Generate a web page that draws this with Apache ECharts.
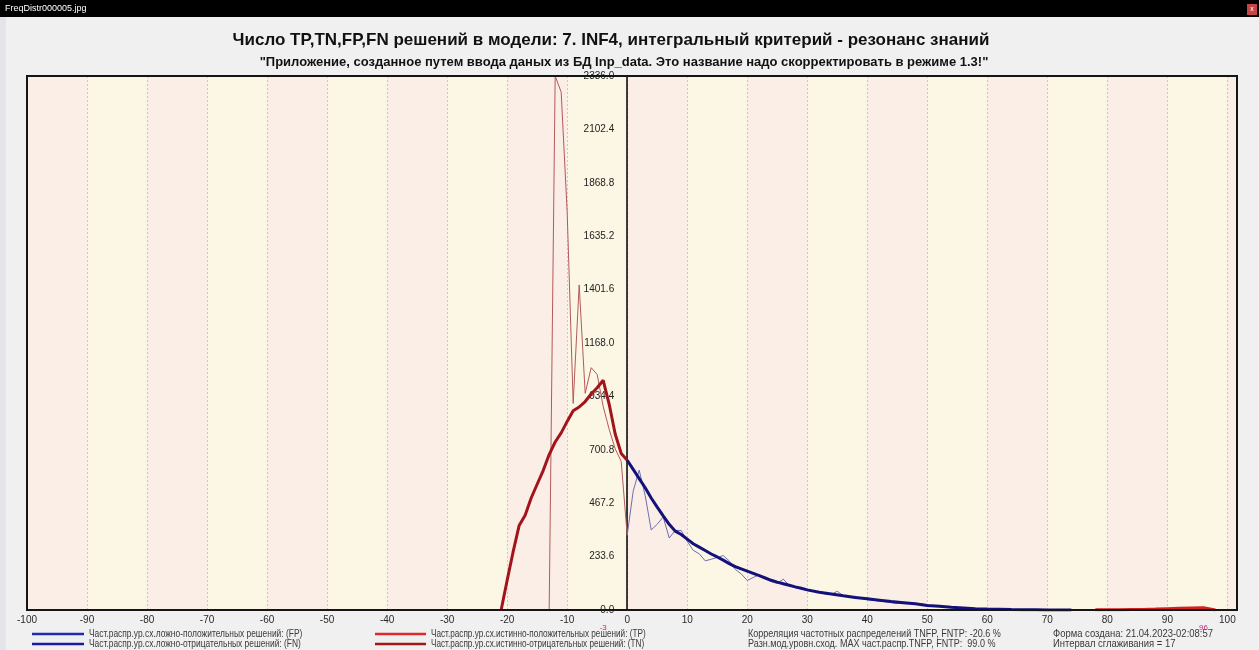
<!DOCTYPE html>
<html><head><meta charset="utf-8">
<script src="https://cdn.jsdelivr.net/npm/echarts@6/dist/echarts.min.js"></script>
<style>html,body{margin:0;padding:0;background:#f0f0f0;overflow:hidden}#c{width:1259px;height:650px}</style>
</head><body><div id="c"></div>
<script>
// ---- data ----
// thin raw red distribution (true decisions)
const trueRawX = [-13,-12,-11,-10,-9,-8,-7,-6,-5,-4,-3,-2,-1,0];
const trueRawY = [0,2336,2265,1740,904,1422,948,1060,1030,890,790,705,650,327];
// thick smoothed dark-red (TN)
const tnX = [-21,-20,-19,-18,-17,-16,-15,-14,-13,-12,-11,-10,-9,-8,-7,-6,-5,-4,-3,-2,-1,0];
const tnY = [0,130,255,370,415,490,550,610,680,735,775,825,872,888,912,945,972,1005,900,770,685,655];
// thick bright-red tail (TP)
const tpX = [78,80,82,84,86,88,90,92,94,96,98];
const tpY = [1,1,1.5,2,2.5,4,6,8,9,10,0];
// thin raw blue distribution (FP)
const fpX = [0,1,2,3,4,5,6,7,8,9,10,11,12,13,14,15,16,17,18,19,20,21,22,23,24,25,26,27,28,29,30,31,32,33,34,35,36,37,38,39,40,41,42,43,44,45,46,47,48,49,50,51,52,53,54,55,56,57,58,59,60,62,64,66];
const fpY = [327,520,612,500,350,375,407,315,348,348,300,261,246,215,222,230,238,215,178,158,129,142,155,137,124,116,135,108,97,92,85,82,78,70,68,82,62,56,60,50,45,42,40,36,32,28,35,30,27,27,22,17,15,12,10,8,7,5,4,3,2,1,0.5,0];
// thick smoothed navy (FN)
const fnX = [0,1,2,3,4,5,6,7,8,9,10,11,12,13,14,15,16,17,18,19,20,21,22,23,24,25,26,27,28,29,30,32,34,36,38,40,42,44,46,48,50,52,54,56,58,60,62,64,66,68,70,72,74];
const fnY = [655,615,575,535,490,450,412,375,345,330,310,290,275,260,245,232,218,203,190,180,170,160,150,140,130,122,115,108,101,95,88,78,70,62,55,49,43,37,32,27,20,16,12,9,6,4,3,2,1.5,1,0.5,0.3,0];

const xMin = -100, xMax = 101.6, xInterval = 10;
const yMax = 2336, yInterval = 233.6;
const modeLabels = [{x:-4, text:'-3'}, {x:96, text:'96'}];

const nFP = 'Част.распр.ур.сх.ложно-положительных решений: (FP)';
const nFN = 'Част.распр.ур.сх.ложно-отрицательных решений: (FN)';
const nTP = 'Част.распр.ур.сх.истинно-положительных решений: (TP)';
const nTN = 'Част.распр.ур.сх.истинно-отрицательных решений: (TN)';
const titleText = 'Число TP,TN,FP,FN решений в модели: 7. INF4, интегральный критерий - резонанс знаний';
const subText = '"Приложение, созданное путем ввода даных из БД Inp_data. Это название надо скорректировать в режиме 1.3!"';
const info1 = 'Корреляция частотных распределений TNFP, FNTP: -20.6 %';
const info2 = 'Разн.мод.уровн.сход. MAX част.распр.TNFP, FNTP:  99.0 %';
const info3 = 'Форма создана: 21.04.2023-02:08:57';
const info4 = 'Интервал сглаживания = 17';

const pairs = (xs, ys) => xs.map((x, i) => [x, ys[i]]);
const FONT = "'Liberation Sans', Arial, sans-serif";

const G = {left:27, right:22, top:76, bottom:40};
const plotW = 1259 - G.left - G.right;
const zeroOffset = -(plotW * (0 - xMin) / (xMax - xMin));

const C = {fp:'#6e6eac', fn:'#12127a', tn:'#a3141a', tpRaw:'#b25a5a', tp:'#d42020'};

const chart = echarts.init(document.getElementById('c'), null, {renderer:'canvas'});
chart.setOption({
  animation:false,
  backgroundColor:'#f0f0f0',
  grid:{left:G.left, right:G.right, top:G.top, bottom:G.bottom, outerBoundsMode:'none', containLabel:false, show:false},
  xAxis:{type:'value', min:xMin, max:xMax, interval:xInterval,
    axisLine:{show:false}, axisTick:{show:false},
    axisLabel:{margin:5, fontSize:10, color:'#2a2a2a', fontFamily:FONT,
      formatter:v => (Math.abs(Math.round(v) - v) < 1e-6 && Math.round(v) % 10 === 0) ? String(Math.round(v)) : ''},
    splitLine:{show:true, lineStyle:{color:'#cbc8c4', type:[2,2], width:1}},
    splitArea:{show:true, areaStyle:{color:['#fbeee6','#fcf6e4']}}
  },
  yAxis:{type:'value', min:0, max:yMax, interval:yInterval, position:'left', offset:zeroOffset,
    axisLine:{show:true, onZero:false, lineStyle:{color:'#000', width:1.5}},
    axisTick:{show:false},
    axisLabel:{margin:13, fontSize:10, color:'#222', fontFamily:FONT, formatter:v => v.toFixed(1)},
    splitLine:{show:true, lineStyle:{color:'#cbc8c4', type:[2,2], width:1}}
  },
  series:[
    {name:nTP, type:'line', data:pairs(trueRawX, trueRawY), symbol:'none', lineStyle:{color:C.tpRaw, width:1}, z:3},
    {name:nFP, type:'line', data:pairs(fpX, fpY), symbol:'none', lineStyle:{color:C.fp, width:1}, z:3},
    {name:nTN, type:'line', data:pairs(tnX, tnY), symbol:'none', lineStyle:{color:C.tn, width:3}, z:4},
    {name:nFN, type:'line', data:pairs(fnX, fnY), symbol:'none', lineStyle:{color:C.fn, width:3}, z:4},
    {name:nTP, type:'line', data:pairs(tpX, tpY), symbol:'none', lineStyle:{color:C.tp, width:3}, z:4}
  ]
});

const tl = chart.convertToPixel({gridIndex:0}, [xMin, yMax]);
const br = chart.convertToPixel({gridIndex:0}, [xMax, 0]);
const txt = (x, y, s, sx) => ({type:'text', x:x, y:y, scaleX:sx,
  style:{text:s, fill:'#3a3a3a', font:"10.5px "+FONT, textVerticalAlign:'middle'}, z:10});
const legLine = (x1, x2, y, color) => ({type:'line', shape:{x1:x1, y1:y, x2:x2, y2:y}, style:{stroke:color, lineWidth:2.5}, z:10});
const g = [
  {type:'rect', shape:{x:0, y:0, width:1259, height:17}, style:{fill:'#000'}, z:10},
  {type:'text', x:5, y:9, style:{text:'FreqDistr000005.jpg', fill:'#fff', font:"9px "+FONT, textVerticalAlign:'middle'}, z:11},
  {type:'rect', shape:{x:1247, y:4, width:10, height:11}, style:{fill:'#c84545'}, z:11},
  {type:'text', x:1252, y:9.5, style:{text:'x', fill:'#fff', font:"7px "+FONT, textAlign:'center', textVerticalAlign:'middle'}, z:12},
  {type:'rect', shape:{x:0, y:17, width:6, height:633}, style:{fill:'#e3e5e8'}, z:1},
  {type:'rect', shape:{x:tl[0], y:tl[1], width:br[0]-tl[0], height:br[1]-tl[1]}, style:{fill:null, stroke:'#151515', lineWidth:2}, z:5},
  {type:'text', x:611, y:40, style:{text:titleText, fill:'#111', font:"bold 17px "+FONT, textAlign:'center', textVerticalAlign:'middle'}, z:10},
  {type:'text', x:624, y:62, style:{text:subText, fill:'#111', font:"bold 13px "+FONT, textAlign:'center', textVerticalAlign:'middle'}, z:10},
  legLine(32, 84, 634, '#1e2cb0'), txt(89, 634, nFP, 0.8),
  legLine(32, 84, 644, '#1a1aa0'), txt(89, 644, nFN, 0.8),
  legLine(375, 426, 634, '#e02828'), txt(431, 634, nTP, 0.78),
  legLine(375, 426, 644, '#a01818'), txt(431, 644, nTN, 0.78),
  txt(748, 634, info1, 0.86), txt(748, 644, info2, 0.86),
  txt(1053, 634, info3, 0.9), txt(1053, 644, info4, 0.9)
];
modeLabels.forEach(m => {
  const p = chart.convertToPixel({gridIndex:0}, [m.x, 0]);
  g.push({type:'text', x:p[0], y:628, style:{text:m.text, fill:'#c0288c', font:"8px "+FONT, textAlign:'center', textVerticalAlign:'middle'}, z:10});
});
chart.setOption({graphic:g});
</script></body></html>
